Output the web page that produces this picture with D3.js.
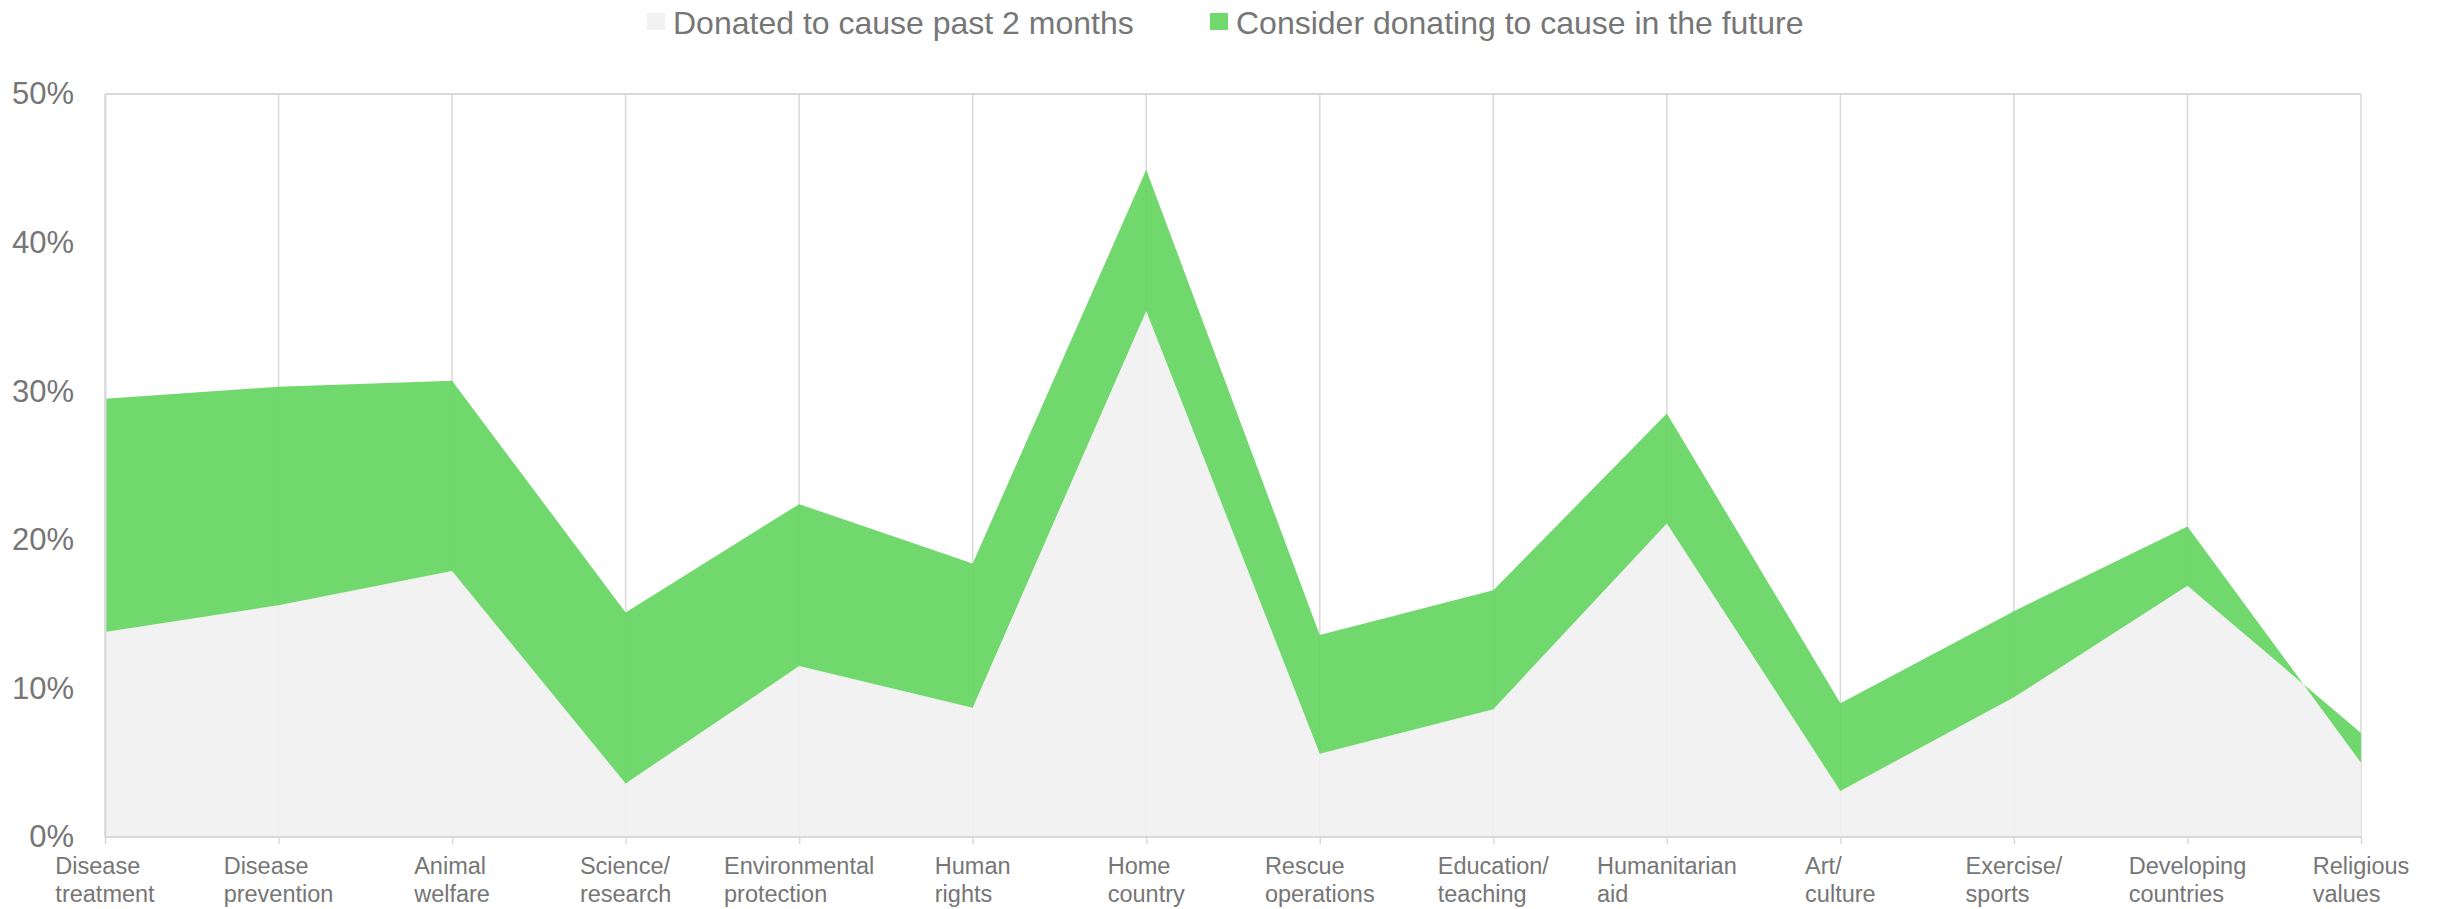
<!DOCTYPE html>
<html><head><meta charset="utf-8">
<script src="https://cdn.jsdelivr.net/npm/d3@7"></script>
<style>
html,body{margin:0;padding:0;background:#fff;}
svg{display:block;font-family:"Liberation Sans", Arial, sans-serif;}
</style></head><body>
<svg id="chart" width="2440" height="909"></svg>
<script>
const categories = ["Disease treatment","Disease prevention","Animal welfare","Science/ research","Environmental protection","Human rights","Home country","Rescue operations","Education/ teaching","Humanitarian aid","Art/ culture","Exercise/ sports","Developing countries","Religious values"];
const labelLines = [["Disease","treatment"],["Disease","prevention"],["Animal","welfare"],["Science/","research"],["Environmental","protection"],["Human","rights"],["Home","country"],["Rescue","operations"],["Education/","teaching"],["Humanitarian","aid"],["Art/","culture"],["Exercise/","sports"],["Developing","countries"],["Religious","values"]];
const donated  = [13.8, 15.6, 17.9, 3.6, 11.5, 8.7, 35.4, 5.6, 8.6, 21.1, 3.1, 9.4, 16.9, 7.0];
const consider = [29.5, 30.3, 30.7, 15.1, 22.4, 18.4, 44.9, 13.6, 16.6, 28.5, 9.0, 15.2, 20.9, 5.0];
const yTicks = [0, 10, 20, 30, 40, 50];
const seriesNames = ["Donated to cause past 2 months", "Consider donating to cause in the future"];
const areaColors = ["#f1f1f1", "#64d55f"];
const legendColors = ["#f2f2f2", "#70d86c"];

const m = {left:105, right:2361, top:94, bottom:837};
const textColor = "#767676", gridColor = "#d9d9d9";
const svg = d3.select("#chart");
const x = d3.scalePoint().domain(categories).range([m.left, m.right]);
const y = d3.scaleLinear().domain([0, 50]).range([m.bottom, m.top]);

// vertical gridlines (behind areas)
svg.append("g").selectAll("line").data(categories).join("line")
  .attr("x1", d => x(d)).attr("x2", d => x(d))
  .attr("y1", y(50)).attr("y2", y(0))
  .attr("stroke", gridColor).attr("stroke-width", 1.5);

const rows = categories.map((c, i) => ({c, d: donated[i], k: consider[i]}));
svg.append("path").datum(rows)
  .attr("d", d3.area().x(r => x(r.c)).y0(y(0)).y1(r => y(r.d)))
  .attr("fill", areaColors[0]).attr("fill-opacity", 0.92);
svg.append("path").datum(rows)
  .attr("d", d3.area().x(r => x(r.c)).y0(r => y(r.d)).y1(r => y(r.k)))
  .attr("fill", areaColors[1]).attr("fill-opacity", 0.92);

// top border
svg.append("line").attr("x1", m.left).attr("x2", m.right).attr("y1", y(50)).attr("y2", y(50))
  .attr("stroke", gridColor).attr("stroke-width", 2);

// bottom axis (ticks)
const xAxis = svg.append("g").attr("transform", `translate(0,${m.bottom})`)
  .call(d3.axisBottom(x).tickSize(7).tickFormat(""));
xAxis.select(".domain").attr("stroke", gridColor).attr("stroke-width", 2).attr("d", `M${m.left},0H${m.right}`);
xAxis.selectAll(".tick line").attr("stroke", gridColor).attr("stroke-width", 1.5);

// left axis
const yAxis = svg.append("g").attr("transform", `translate(${m.left},0)`)
  .call(d3.axisLeft(y).tickValues(yTicks).tickFormat(d => d + "%").tickSize(0).tickPadding(31));
yAxis.select(".domain").attr("stroke", gridColor).attr("stroke-width", 2);
yAxis.selectAll(".tick text").attr("fill", textColor).style("font-size", "31px")
  .style("font-family", '"Liberation Sans", Arial, sans-serif');

// x labels: multi-line, left-aligned block centered on tick
const lab = svg.append("g").selectAll("text").data(categories).join("text")
  .attr("fill", textColor).style("font-size", "23.5px");
lab.each(function(d, i) {
  const t = d3.select(this);
  labelLines[i].forEach((ln, j) => {
    t.append("tspan").attr("y", 874 + j * 28).text(ln);
  });
  let w = 0;
  t.selectAll("tspan").each(function() { w = Math.max(w, this.getComputedTextLength()); });
  t.selectAll("tspan").attr("x", x(d) - w / 2);
});

// legend
const legendItems = [{x: 647, tx: 673}, {x: 1210, tx: 1236}];
legendItems.forEach((it, i) => {
  svg.append("rect").attr("x", it.x).attr("y", 13).attr("width", 18).attr("height", 17).attr("fill", legendColors[i]);
  svg.append("text").attr("x", it.tx).attr("y", 34).attr("fill", textColor)
    .style("font-size", "32px").text(seriesNames[i]);
});
</script>
</body></html>
